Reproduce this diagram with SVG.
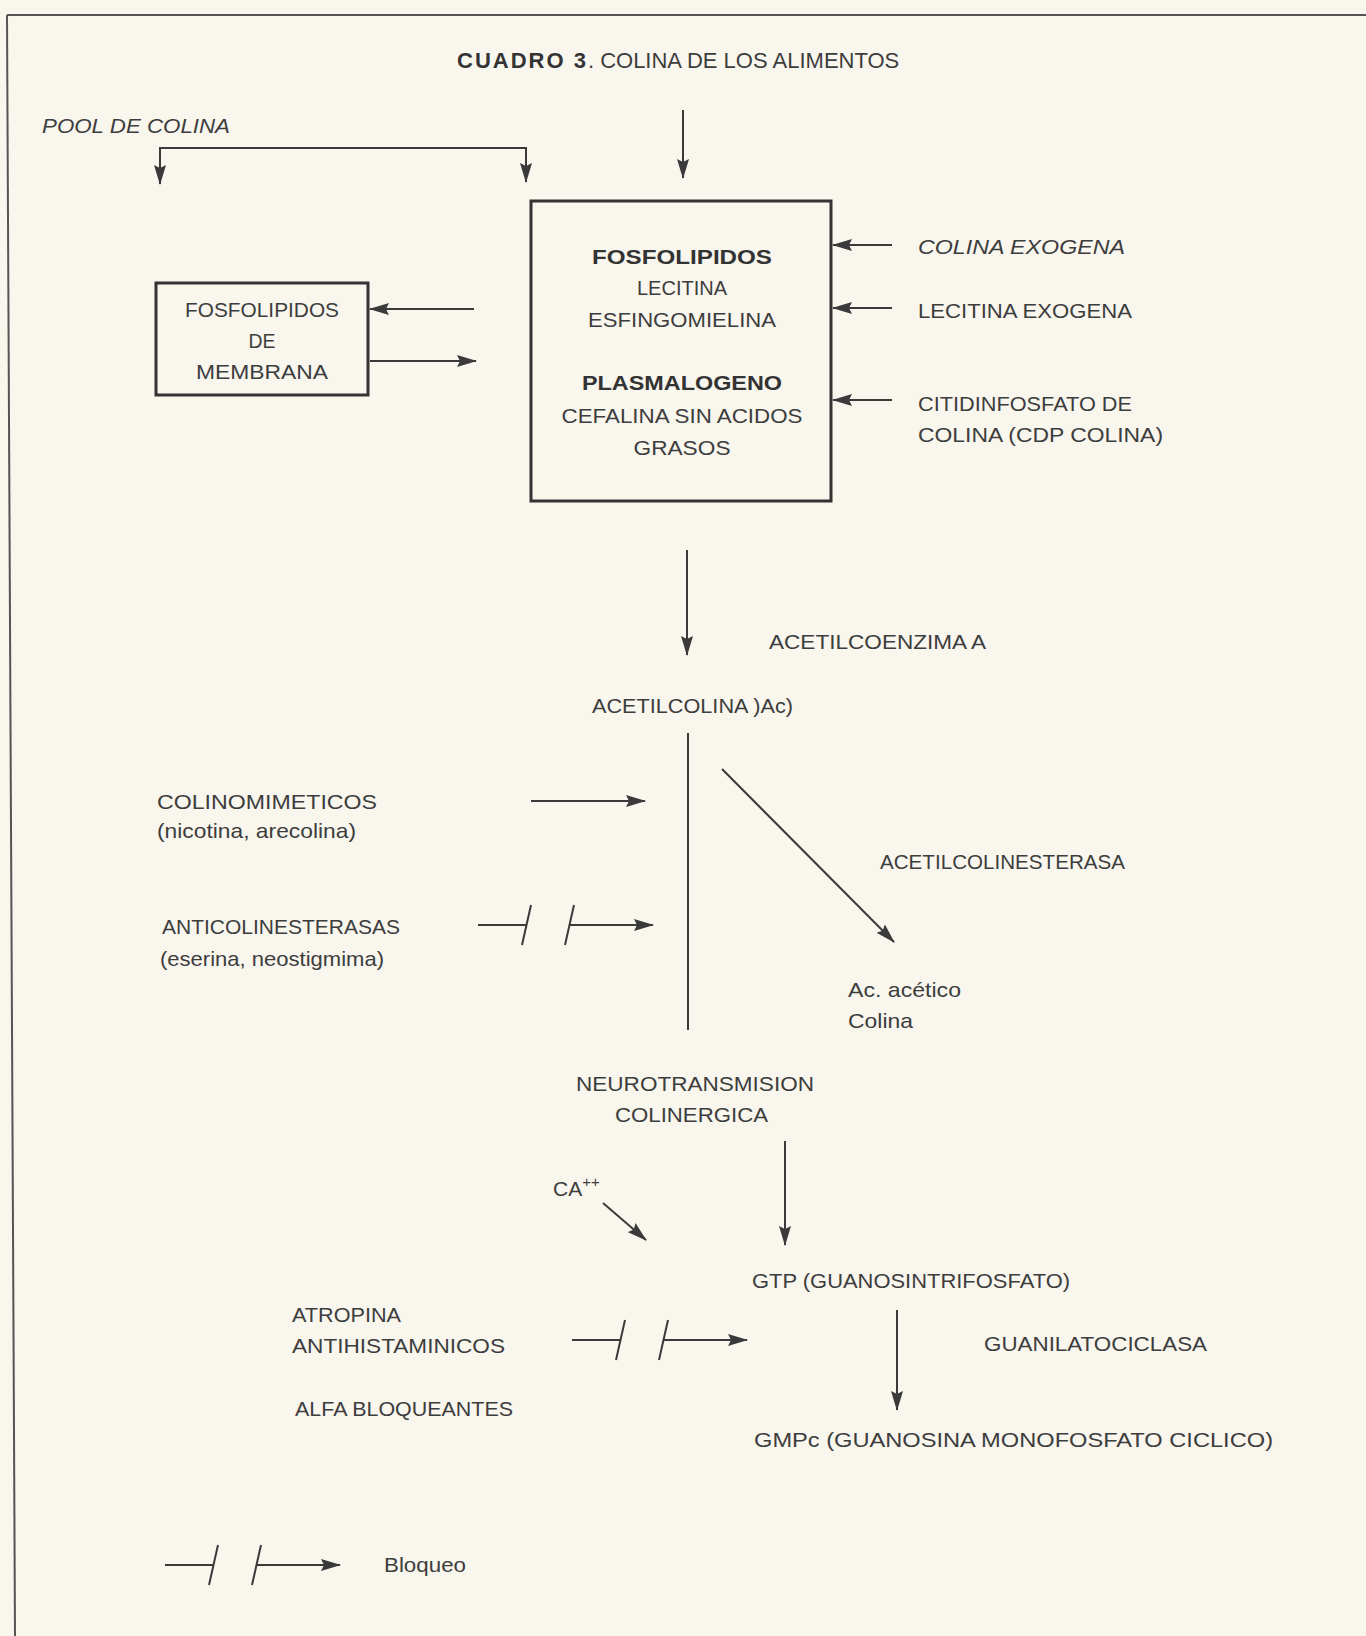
<svg xmlns="http://www.w3.org/2000/svg" width="1366" height="1636" viewBox="0 0 1366 1636">
<defs>
<style>
text{font-family:"Liberation Sans",Arial,sans-serif;font-size:21px;fill:#3d3d3d}
.b{font-weight:bold;fill:#333}
.i{font-style:italic}
.ln{stroke:#3a3a3a;stroke-width:2;fill:none}
.box{stroke:#333;stroke-width:3;fill:none}
.frame{stroke:#555;stroke-width:2;fill:none}
</style>
<marker id="ah" viewBox="0 0 20 12" refX="19" refY="6" markerWidth="20" markerHeight="12" markerUnits="userSpaceOnUse" orient="auto">
<path d="M0,0 L20,6 L0,12 L3,6 Z" fill="#3a3a3a"/>
</marker>
<g id="block" class="ln">
<line x1="0" y1="0" x2="49" y2="0"/>
<line x1="44" y1="20" x2="53" y2="-20"/>
<line x1="87" y1="20" x2="96" y2="-20"/>
<line x1="91" y1="0" x2="175" y2="0" marker-end="url(#ah)"/>
</g>
</defs>
<rect x="0" y="0" width="1366" height="1636" fill="#f9f6ee"/>
<line class="frame" x1="7" y1="15" x2="1366" y2="15"/>
<line class="frame" x1="7" y1="15" x2="15" y2="1636"/>

<g id="title"><text x="457" y="68" style="font-size:22px"><tspan class="b" style="letter-spacing:2px">CUADRO 3</tspan>. COLINA DE LOS ALIMENTOS</text></g>
<g id="pool"><text class="i" x="42" y="133" textLength="188" lengthAdjust="spacingAndGlyphs">POOL DE COLINA</text></g>

<g id="fosfolipidos">
<rect class="box" x="531" y="201" width="300" height="300"/>
<text class="b" x="682" y="264" text-anchor="middle" textLength="180" lengthAdjust="spacingAndGlyphs">FOSFOLIPIDOS</text>
<text x="682" y="295" text-anchor="middle" textLength="90" lengthAdjust="spacingAndGlyphs">LECITINA</text>
<text x="682" y="327" text-anchor="middle" textLength="188" lengthAdjust="spacingAndGlyphs">ESFINGOMIELINA</text>
<text class="b" x="682" y="390" text-anchor="middle" textLength="200" lengthAdjust="spacingAndGlyphs">PLASMALOGENO</text>
<text x="682" y="423" text-anchor="middle" textLength="241" lengthAdjust="spacingAndGlyphs">CEFALINA SIN ACIDOS</text>
<text x="682" y="455" text-anchor="middle" textLength="97" lengthAdjust="spacingAndGlyphs">GRASOS</text>
</g>

<g id="membrana">
<rect class="box" x="156" y="283" width="212" height="112"/>
<text x="262" y="317" text-anchor="middle" textLength="154" lengthAdjust="spacingAndGlyphs">FOSFOLIPIDOS</text>
<text x="262" y="348" text-anchor="middle" textLength="27" lengthAdjust="spacingAndGlyphs">DE</text>
<text x="262" y="379" text-anchor="middle" textLength="132" lengthAdjust="spacingAndGlyphs">MEMBRANA</text>
</g>

<g id="colina-exogena"><text class="i" x="918" y="254" textLength="207" lengthAdjust="spacingAndGlyphs">COLINA EXOGENA</text></g>
<g id="lecitina-exogena"><text x="918" y="318" textLength="214" lengthAdjust="spacingAndGlyphs">LECITINA EXOGENA</text></g>
<g id="cdp-colina">
<text x="918" y="411" textLength="214" lengthAdjust="spacingAndGlyphs">CITIDINFOSFATO DE</text>
<text x="918" y="442" textLength="245" lengthAdjust="spacingAndGlyphs">COLINA (CDP COLINA)</text>
</g>

<g id="acetilcoenzima"><text x="769" y="649" textLength="217" lengthAdjust="spacingAndGlyphs">ACETILCOENZIMA A</text></g>
<g id="acetilcolina"><text x="592" y="713" textLength="201" lengthAdjust="spacingAndGlyphs">ACETILCOLINA )Ac)</text></g>

<g id="colinomimeticos">
<text x="157" y="809" textLength="220" lengthAdjust="spacingAndGlyphs">COLINOMIMETICOS</text>
<text x="157" y="838" textLength="199" lengthAdjust="spacingAndGlyphs">(nicotina, arecolina)</text>
</g>
<g id="anticolinesterasas">
<text x="162" y="934" textLength="238" lengthAdjust="spacingAndGlyphs">ANTICOLINESTERASAS</text>
<text x="160" y="966" textLength="224" lengthAdjust="spacingAndGlyphs">(eserina, neostigmima)</text>
</g>
<g id="acetilcolinesterasa"><text x="880" y="869" textLength="245" lengthAdjust="spacingAndGlyphs">ACETILCOLINESTERASA</text></g>
<g id="productos">
<text x="848" y="997" textLength="113" lengthAdjust="spacingAndGlyphs">Ac. acético</text>
<text x="848" y="1028" textLength="65" lengthAdjust="spacingAndGlyphs">Colina</text>
</g>
<g id="neurotransmision">
<text x="576" y="1091" textLength="238" lengthAdjust="spacingAndGlyphs">NEUROTRANSMISION</text>
<text x="615" y="1122" textLength="153" lengthAdjust="spacingAndGlyphs">COLINERGICA</text>
</g>
<g id="calcio"><text x="553" y="1196">CA<tspan dy="-9" style="font-size:15px">++</tspan></text></g>
<g id="gtp"><text x="752" y="1288" textLength="318" lengthAdjust="spacingAndGlyphs">GTP (GUANOSINTRIFOSFATO)</text></g>
<g id="guanilatociclasa"><text x="984" y="1351" textLength="223" lengthAdjust="spacingAndGlyphs">GUANILATOCICLASA</text></g>
<g id="gmpc"><text x="754" y="1447" textLength="519" lengthAdjust="spacingAndGlyphs">GMPc (GUANOSINA MONOFOSFATO CICLICO)</text></g>
<g id="bloqueantes">
<text x="292" y="1322" textLength="109" lengthAdjust="spacingAndGlyphs">ATROPINA</text>
<text x="292" y="1353" textLength="213" lengthAdjust="spacingAndGlyphs">ANTIHISTAMINICOS</text>
<text x="295" y="1416" textLength="218" lengthAdjust="spacingAndGlyphs">ALFA BLOQUEANTES</text>
</g>
<g id="leyenda">
<use href="#block" x="165" y="1565"/>
<text x="384" y="1572" textLength="82" lengthAdjust="spacingAndGlyphs">Bloqueo</text>
</g>

<g id="connectors" class="ln">
<line x1="159" y1="148" x2="527" y2="148"/>
<line x1="160" y1="148" x2="160" y2="184" marker-end="url(#ah)"/>
<line x1="526" y1="148" x2="526" y2="182" marker-end="url(#ah)"/>
<line x1="683" y1="110" x2="683" y2="178" marker-end="url(#ah)"/>
<line x1="474" y1="309" x2="370" y2="309" marker-end="url(#ah)"/>
<line x1="370" y1="361" x2="476" y2="361" marker-end="url(#ah)"/>
<line x1="892" y1="245" x2="833" y2="245" marker-end="url(#ah)"/>
<line x1="892" y1="308" x2="833" y2="308" marker-end="url(#ah)"/>
<line x1="892" y1="400" x2="833" y2="400" marker-end="url(#ah)"/>
<line x1="687" y1="550" x2="687" y2="655" marker-end="url(#ah)"/>
<line x1="688" y1="733" x2="688" y2="1030"/>
<line x1="722" y1="769" x2="894" y2="942" marker-end="url(#ah)"/>
<line x1="531" y1="801" x2="645" y2="801" marker-end="url(#ah)"/>
<use href="#block" x="478" y="925"/>
<line x1="785" y1="1141" x2="785" y2="1245" marker-end="url(#ah)"/>
<line x1="603" y1="1203" x2="646" y2="1240" marker-end="url(#ah)"/>
<line x1="897" y1="1310" x2="897" y2="1410" marker-end="url(#ah)"/>
<use href="#block" x="572" y="1340"/>
</g>
</svg>
